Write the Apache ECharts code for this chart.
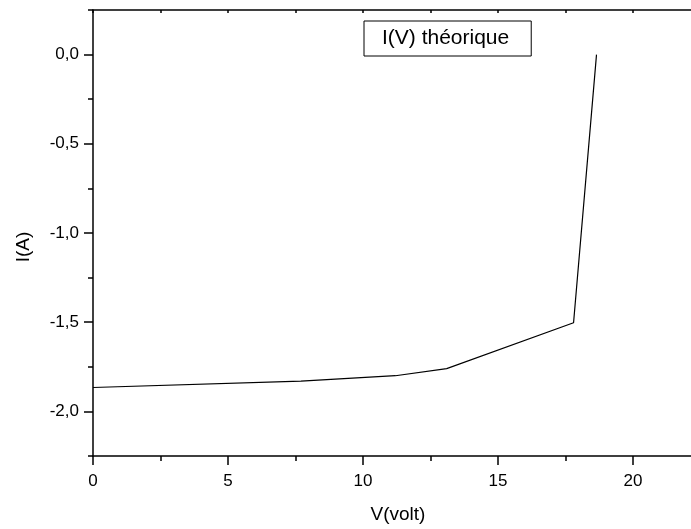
<!DOCTYPE html>
<html>
<head>
<meta charset="utf-8">
<script src="https://cdn.jsdelivr.net/npm/echarts@6/dist/echarts.min.js"></script>
<style>html,body{margin:0;padding:0;background:#fff}#c{width:691px;height:529px}</style>
</head>
<body>
<div id="c"></div>
<script>
// Data
const voltage = [0, 7.7, 11.2, 13.1, 17.8, 18.65];
const current = [-1.866, -1.83, -1.80, -1.76, -1.503, 0.0];
const seriesName = 'I(V) théorique';
const xMajorTicks = [0, 5, 10, 15, 20];
const xMinorTicks = [2.5, 7.5, 12.5, 17.5];
const yMajorTicks = [-2.0, -1.5, -1.0, -0.5, 0.0];
const yMinorTicks = [-2.25, -1.75, -1.25, -0.75, -0.25, 0.25];

const points = voltage.map((v, i) => [v, current[i]]);
const FONT = 'Liberation Sans, Arial, sans-serif';
const XMIN = 0, XMAX = 22.15, YMIN = -2.25, YMAX = 0.25;
const axisLine = { show: true, onZero: false, lineStyle: { color: '#000', width: 1.5 } };
const noLine = { show: false, onZero: false };

const chart = echarts.init(document.getElementById('c'));
chart.setOption({
  animation: false,
  backgroundColor: '#fff',
  grid: { left: 93, top: 10, right: 0, bottom: 72 },
  legend: {
    left: 364, top: 21,
    data: [seriesName],
    icon: 'rect', itemWidth: 0, itemHeight: 0,
    borderColor: '#000', borderWidth: 1, borderRadius: 0,
    padding: [7, 22, 7, 13],
    textStyle: { fontFamily: FONT, fontSize: 21, color: '#000' }
  },
  xAxis: [
    {
      type: 'value', position: 'bottom', min: XMIN, max: XMAX,
      name: 'V(volt)', nameLocation: 'middle', nameGap: 49,
      nameTextStyle: { fontFamily: FONT, fontSize: 19, color: '#000', padding: [0, 0, 0, 12] },
      axisLine: axisLine,
      axisTick: { show: true, length: 9, inside: false, customValues: xMajorTicks, lineStyle: { color: '#000', width: 1.5 } },
      axisLabel: { show: true, customValues: xMajorTicks, margin: 17, fontFamily: FONT, fontSize: 17, color: '#000' },
      splitLine: { show: false }
    },
    {
      type: 'value', position: 'bottom', min: XMIN, max: XMAX,
      axisLine: noLine,
      axisTick: { show: true, length: 5, inside: false, customValues: xMinorTicks, lineStyle: { color: '#000', width: 1.5 } },
      axisLabel: { show: false },
      splitLine: { show: false }
    },
    {
      type: 'value', position: 'top', min: XMIN, max: XMAX,
      axisLine: axisLine,
      axisTick: { show: true, length: 3, inside: true, customValues: xMajorTicks.concat(xMinorTicks), lineStyle: { color: '#000', width: 1.5 } },
      axisLabel: { show: false },
      splitLine: { show: false }
    }
  ],
  yAxis: [
    {
      type: 'value', position: 'left', min: YMIN, max: YMAX,
      name: 'I(A)', nameLocation: 'middle', nameGap: 60,
      nameTextStyle: { fontFamily: FONT, fontSize: 19, color: '#000', padding: [0, 28, 0, 0] },
      axisLine: axisLine,
      axisTick: { show: true, length: 9, inside: false, customValues: yMajorTicks, lineStyle: { color: '#000', width: 1.5 } },
      axisLabel: {
        show: true, customValues: yMajorTicks, margin: 14, fontFamily: FONT, fontSize: 17, color: '#000',
        formatter: v => Number(v).toFixed(1).replace('.', ',')
      },
      splitLine: { show: false }
    },
    {
      type: 'value', position: 'left', min: YMIN, max: YMAX,
      axisLine: noLine,
      axisTick: { show: true, length: 5, inside: false, customValues: yMinorTicks, lineStyle: { color: '#000', width: 1.5 } },
      axisLabel: { show: false },
      splitLine: { show: false }
    }
  ],
  series: [{
    name: seriesName,
    type: 'line',
    xAxisIndex: 0, yAxisIndex: 0,
    data: points,
    showSymbol: false,
    symbol: 'none',
    lineStyle: { color: '#000', width: 1.2 },
    itemStyle: { color: '#000' }
  }]
});
</script>
</body>
</html>
